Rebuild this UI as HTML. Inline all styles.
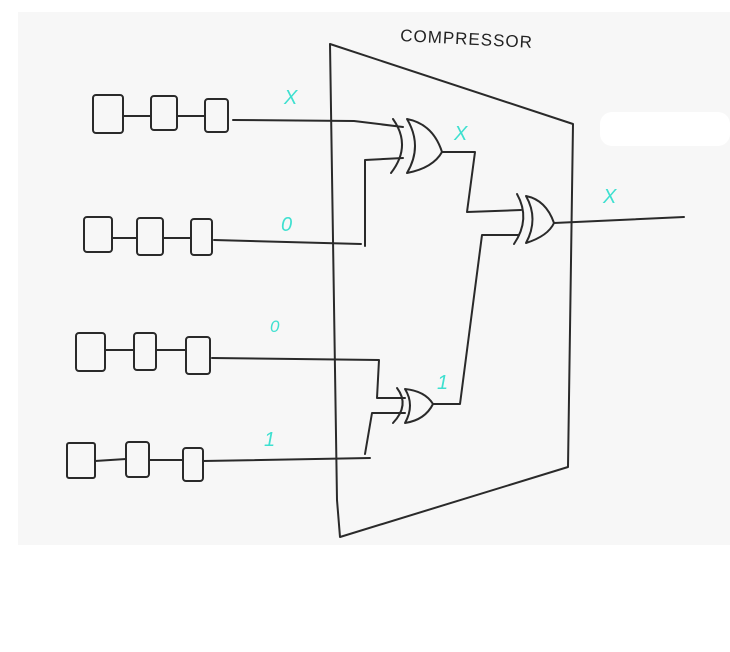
<!DOCTYPE html>
<html><head><style>
html,body{margin:0;padding:0;background:#fff;}
svg{display:block;}
</style></head><body>
<svg width="730" height="652" viewBox="0 0 730 652" xmlns="http://www.w3.org/2000/svg">
<rect x="18" y="12" width="712" height="533" fill="#f7f7f7"/>
<rect x="600" y="112" width="130" height="34" rx="12" fill="#fff"/>
<g fill="none" stroke="#2a2a2a" stroke-width="2" stroke-linecap="round" stroke-linejoin="round">
<!-- compressor trapezoid -->
<path d="M330,44 L573,124 L568,467 L340,537 L337,500 L330,44"/>
<!-- registers -->
<rect x="93" y="95" width="30" height="38" rx="3"/><rect x="151" y="96" width="26" height="34" rx="3"/><rect x="205" y="99" width="23" height="33" rx="3"/>
<path d="M123,116 H151 M177,116 H205"/>
<rect x="84" y="217" width="28" height="35" rx="3"/><rect x="137" y="218" width="26" height="37" rx="3"/><rect x="191" y="219" width="21" height="36" rx="3"/>
<path d="M112,238 H137 M163,238 H191"/>
<rect x="76" y="333" width="29" height="38" rx="3"/><rect x="134" y="333" width="22" height="37" rx="3"/><rect x="186" y="337" width="24" height="37" rx="3"/>
<path d="M105,350 H134 M156,350 H186"/>
<rect x="67" y="443" width="28" height="35" rx="2"/><rect x="126" y="442" width="23" height="35" rx="3"/><rect x="183" y="448" width="20" height="33" rx="3"/>
<path d="M95,461 L126,459 M149,460 H183"/>
<!-- gate1 -->
<path d="M393,119 Q412,146 391,173"/>
<path d="M407,119 Q423,146 407,173 Q433,168 442,152 Q433,124 407,119 Z"/>
<!-- gate3 -->
<path d="M517,194 Q531,219 514,244"/>
<path d="M526,196 Q539,219 526,243 Q548,236 554,223 Q546,200 526,196 Z"/>
<!-- gate2 -->
<path d="M397,388 Q410,405 393,423"/>
<path d="M405,389 Q415,405 405,423 Q425,420 433,404 Q425,391 405,389 Z"/>
<!-- wires -->
<path d="M233,120 L354,121 L403,127"/>
<path d="M214,240 L361,244 M365,246 L365,160 L403,158"/>
<path d="M442,152 L475,152 L467,212 L521,210"/>
<path d="M433,404 L460,404 L482,235 L519,235"/>
<path d="M212,358 L379,360 L377,398 L405,398"/>
<path d="M405,413 L372,413 L365,454 M203,461 L370,458"/>
<path d="M554,223 L684,217"/>
</g>
<g font-family="Liberation Sans, sans-serif" font-style="italic" fill="#3fe0d0" font-size="20">
<text x="284" y="104">X</text>
<text x="281" y="231">0</text>
<text x="270" y="332" font-size="17">0</text>
<text x="264" y="446">1</text>
<text x="454" y="140">X</text>
<text x="437" y="389">1</text>
<text x="603" y="203">X</text>
</g>
<text x="400" y="41" font-family="Liberation Sans, sans-serif" font-size="17" fill="#222" letter-spacing="1" transform="rotate(3 400 41)">COMPRESSOR</text>
</svg>
</body></html>
